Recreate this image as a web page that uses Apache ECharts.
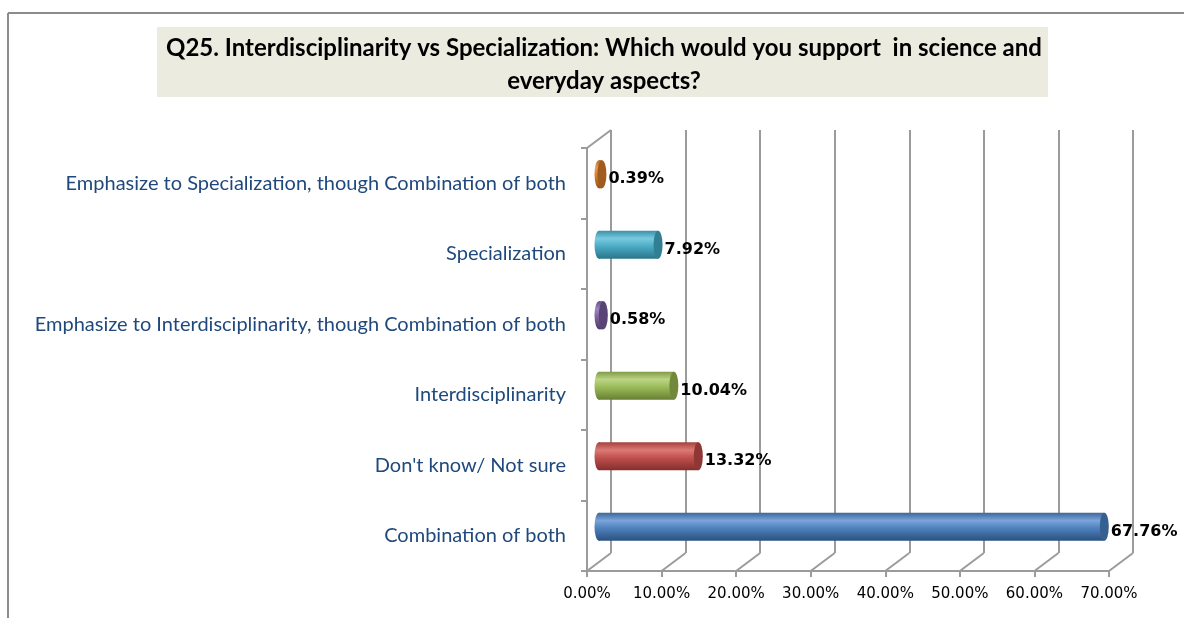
<!DOCTYPE html>
<html>
<head>
<meta charset="utf-8">
<script src="https://cdn.jsdelivr.net/npm/echarts@6/dist/echarts.min.js"></script>
<style>
  html, body { margin: 0; padding: 0; background: #ffffff; }
  #chart { width: 1184px; height: 618px; }
</style>
</head>
<body>
<div id="chart"></div>
<script>
// Survey answers, bottom to top as they appear on the category axis
const categories = [
  'Combination of both',
  "Don't know/ Not sure",
  'Interdisciplinarity',
  'Emphasize to Interdisciplinarity, though Combination of both',
  'Specialization',
  'Emphasize to Specialization, though Combination of both'
];
const percentages = [67.76, 13.32, 10.04, 0.58, 7.92, 0.39];
const xTicks = [0, 10, 20, 30, 40, 50, 60, 70];
const titleText = 'Q25. Interdisciplinarity vs Specialization: Which would you support  in science and\neveryday aspects?';

// Cylinder shading per answer: top edge, highlight, body, bottom edge, end cap
const shades = [
  ['#3d6598', '#7aa5da', '#4f81bd', '#2b507f', '#36608f'],
  ['#a3403d', '#dc7b76', '#c0504d', '#842e2c', '#8f3735'],
  ['#7f9a45', '#bcd586', '#9bbb59', '#677f33', '#72893b'],
  ['#654d86', '#9f86c0', '#8064a2', '#4f3b6b', '#574474'],
  ['#3990a8', '#79cadf', '#4bacc6', '#2b7489', '#327e92'],
  ['#b86b26', '#ec9e58', '#d5802f', '#93531a', '#a05c1f']
];

// Plot box and the 3D depth of the back wall
const FRONT = { left: 587, top: 148, width: 522, height: 423 };
const DEPTH = [24, -18];
const LINE = '#9b9b9b';

const chart = echarts.init(document.getElementById('chart'));

function cylinder(params, api) {
  const v = api.value(0);
  const i = api.value(1);
  const p0 = api.coord([0, i]);
  const p1 = api.coord([v, i]);
  const ox = DEPTH[0] / 2, oy = DEPTH[1] / 2;
  const x0 = p0[0] + ox;
  const x1 = p1[0] + ox;
  const cy = p0[1] + oy;
  const h = api.size([0, 1])[1] * 0.4;
  const ry = h / 2;
  const rx = 4.5;
  const s = shades[i];
  const grad = () => new echarts.graphic.LinearGradient(0, 0, 0, 1, [
    { offset: 0, color: s[0] },
    { offset: 0.28, color: s[1] },
    { offset: 0.55, color: s[2] },
    { offset: 1, color: s[3] }
  ]);
  return {
    type: 'group',
    children: [
      { type: 'circle', x: x0, y: cy, scaleX: rx / ry, shape: { cx: 0, cy: 0, r: ry }, style: { fill: grad() } },
      { type: 'rect', shape: { x: x0, y: cy - ry, width: x1 - x0, height: h }, style: { fill: grad() } },
      { type: 'circle', x: x1, y: cy, scaleX: rx / ry, shape: { cx: 0, cy: 0, r: ry }, style: { fill: s[4] } },
      {
        type: 'text', x: x1 + rx + 2, y: cy + 5,
        style: {
          text: v.toFixed(2) + '%', fill: '#000000',
          font: 'bold 16px "DejaVu Sans"', align: 'left', verticalAlign: 'middle'
        }
      }
    ]
  };
}

// Floor connectors from the front axis back to the wall, plus the left wall top edge
function floorLines(params, api) {
  const cs = params.coordSys;
  const t = api.value(0);
  const x = api.coord([t, 0])[0];
  const yb = cs.y + cs.height;
  const kids = [
    { type: 'line', shape: { x1: x, y1: yb, x2: x + DEPTH[0], y2: yb + DEPTH[1] }, style: { stroke: LINE, lineWidth: 2 } }
  ];
  if (t === xTicks[0]) {
    kids.push({ type: 'line', shape: { x1: x, y1: cs.y, x2: x + DEPTH[0], y2: cs.y + DEPTH[1] }, style: { stroke: LINE, lineWidth: 2 } });
  }
  return { type: 'group', children: kids };
}

const option = {
  animation: false,
  backgroundColor: '#ffffff',
  title: {
    text: titleText,
    left: 599,
    top: 27,
    textAlign: 'center',
    textStyle: {
      fontFamily: 'Lato', fontWeight: 'bold', fontSize: 24,
      color: '#000000', lineHeight: 33
    }
  },
  graphic: [
    { type: 'rect', shape: { x: 157, y: 27, width: 891, height: 70 }, style: { fill: '#ecebe0' }, z: -1 },
    { type: 'line', shape: { x1: 8, y1: 13, x2: 1184, y2: 13 }, style: { stroke: '#8c8c8c', lineWidth: 2 } },
    { type: 'line', shape: { x1: 8, y1: 13, x2: 8, y2: 618 }, style: { stroke: '#8c8c8c', lineWidth: 2 } }
  ],
  grid: [
    { left: FRONT.left, top: FRONT.top, width: FRONT.width, height: FRONT.height },
    { left: FRONT.left + DEPTH[0], top: FRONT.top + DEPTH[1], width: FRONT.width, height: FRONT.height }
  ],
  xAxis: [
    {
      gridIndex: 0, type: 'value', min: 0, max: 70, interval: 10,
      axisLine: { show: true, lineStyle: { color: LINE, width: 2 } },
      axisTick: { show: true, length: 6, lineStyle: { color: LINE, width: 2 } },
      splitLine: { show: false },
      axisLabel: {
        margin: 16, color: '#000000', fontFamily: 'DejaVu Sans', fontSize: 15,
        formatter: v => v.toFixed(2) + '%'
      }
    },
    {
      gridIndex: 1, type: 'value', min: 0, max: 70, interval: 10,
      axisLine: { show: false }, axisTick: { show: false }, axisLabel: { show: false },
      splitLine: { show: true, lineStyle: { color: LINE, width: 2 } }
    }
  ],
  yAxis: [
    {
      gridIndex: 0, type: 'category', data: categories,
      axisLine: { show: true, lineStyle: { color: LINE, width: 2 } },
      axisTick: { show: true, length: 6, lineStyle: { color: LINE, width: 2 } },
      axisLabel: { margin: 21, color: '#1f497d', fontFamily: 'Lato', fontSize: 20 }
    },
    {
      gridIndex: 1, type: 'category', data: categories, show: false
    }
  ],
  series: [
    {
      type: 'custom', xAxisIndex: 0, yAxisIndex: 0,
      renderItem: floorLines,
      data: xTicks.map(t => [t, 0]),
      z: 1, silent: true
    },
    {
      type: 'custom', xAxisIndex: 0, yAxisIndex: 0,
      renderItem: cylinder,
      data: percentages.map((v, i) => [v, i]),
      z: 5
    }
  ]
};

chart.setOption(option);
</script>
</body>
</html>
